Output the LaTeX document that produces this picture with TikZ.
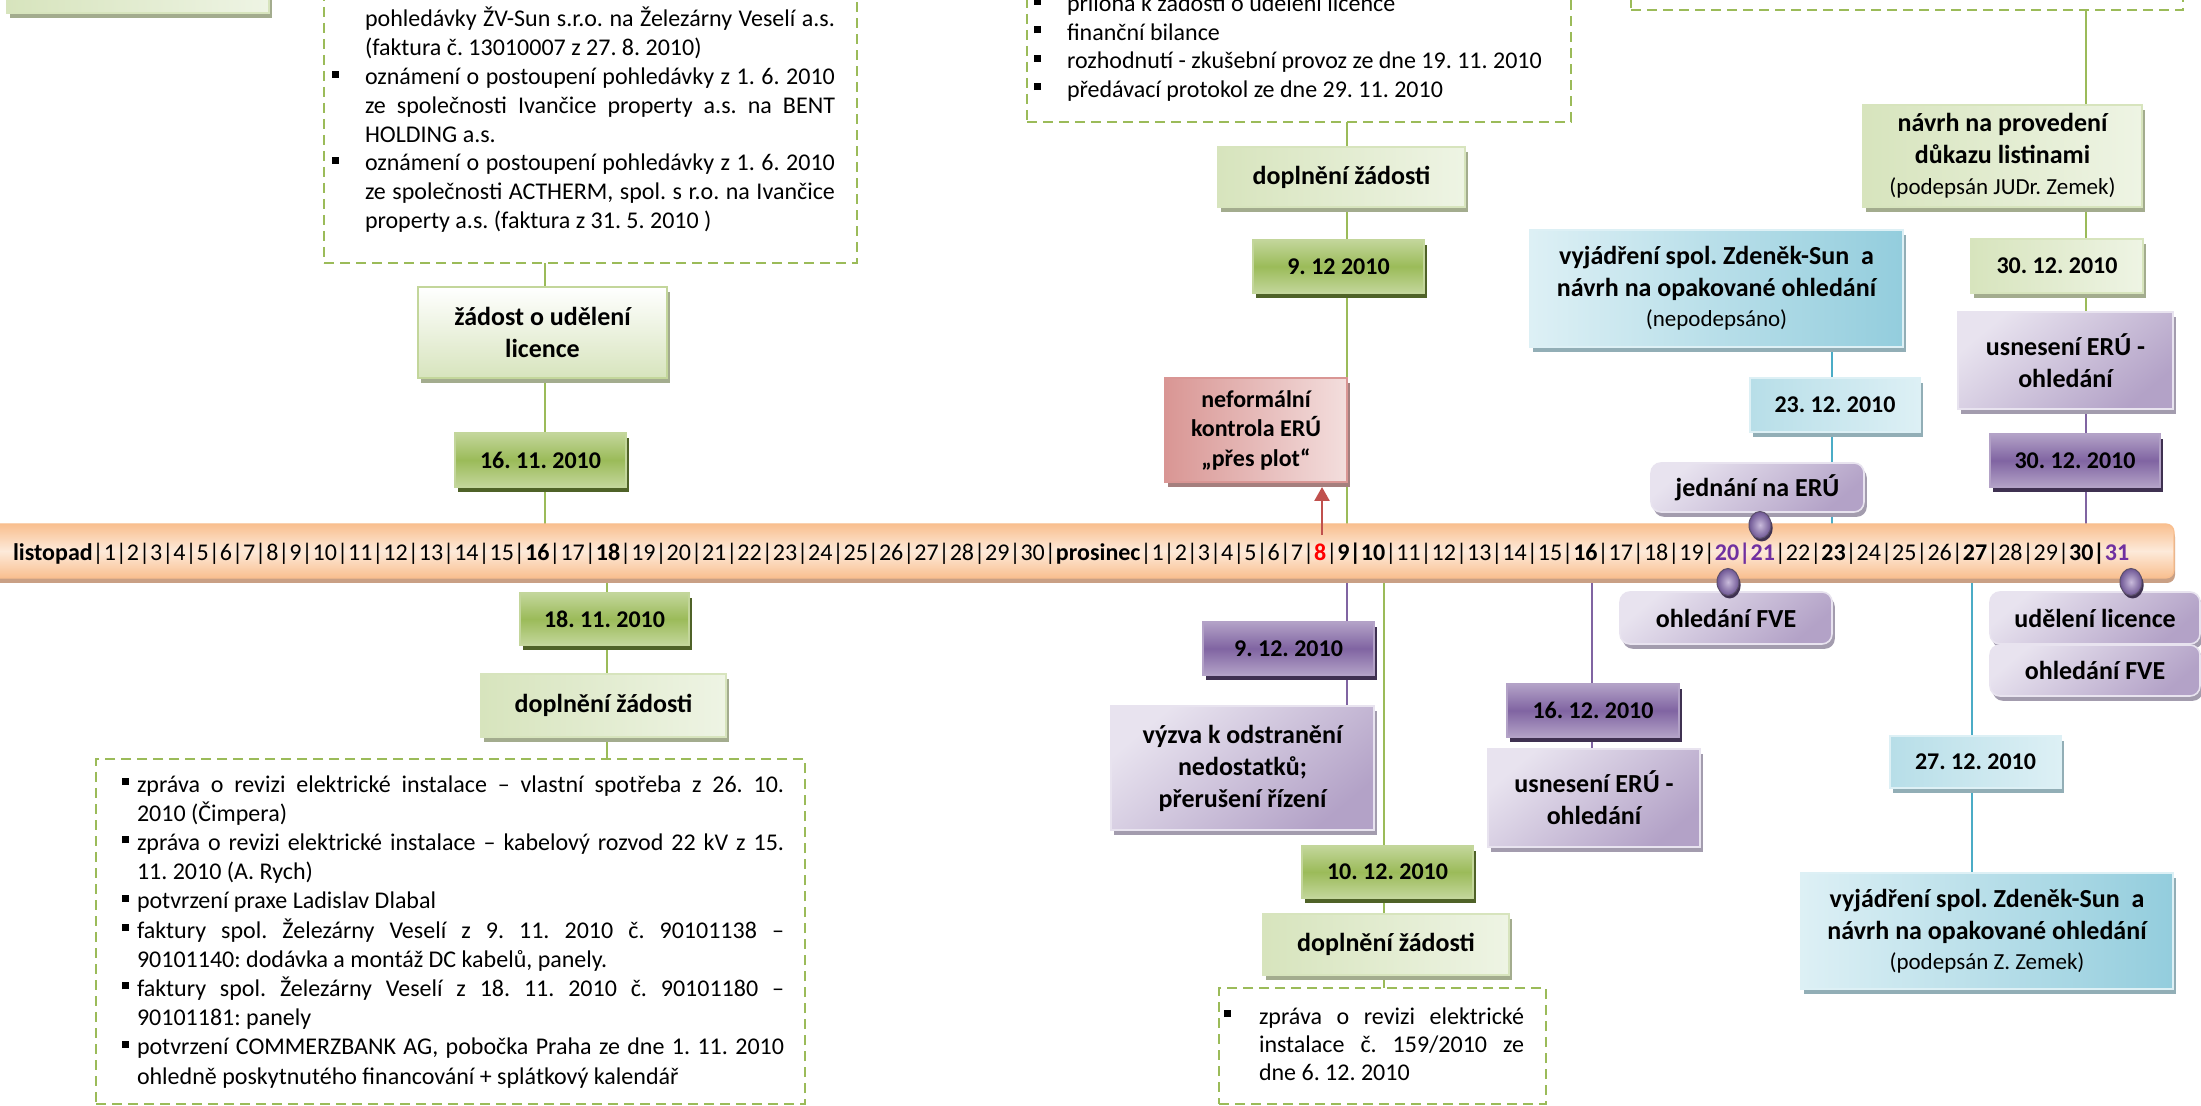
\documentclass[tikz,border=0pt]{standalone}
\usepackage{fontspec}
\setmainfont{Carlito}
\usepackage{graphicx}
\usetikzlibrary{shapes.geometric,shadows,arrows.meta,backgrounds}

\definecolor{Gr}{HTML}{9BBB59}
\definecolor{GrL}{HTML}{C3D69B}
\definecolor{GrLL}{HTML}{D7E4BD}
\definecolor{GrX}{HTML}{EEF4E4}
\definecolor{GrD}{HTML}{4F6228}
\definecolor{GrS}{HTML}{A3AC8E}
\definecolor{Pu}{HTML}{8064A2}
\definecolor{PuL}{HTML}{B3A2C7}
\definecolor{PuX}{HTML}{E8E3EF}
\definecolor{PuD}{HTML}{3F3151}
\definecolor{PuS}{HTML}{A39CAE}
\definecolor{PinIn}{HTML}{C9BBDB}
\definecolor{PinOut}{HTML}{6E5694}
\definecolor{Cy}{HTML}{4BACC6}
\definecolor{CyL}{HTML}{93CDDD}
\definecolor{CyLL}{HTML}{B7DEE8}
\definecolor{CyX}{HTML}{DDF0F5}
\definecolor{CyS}{HTML}{92AEB6}
\definecolor{Rd}{HTML}{C0504D}
\definecolor{RdL}{HTML}{D99694}
\definecolor{RdX}{HTML}{F3DEDD}
\definecolor{RdS}{HTML}{A57F7E}
\definecolor{Or}{HTML}{F9BF8F}
\definecolor{OrX}{HTML}{FDEADA}
\definecolor{OrS}{HTML}{C9A085}
\definecolor{TxP}{HTML}{7030A0}

\newcommand\FontHead{\fontsize{13}{16}\selectfont\bfseries}
\newcommand\FontDate{\fontsize{12}{14}\selectfont\bfseries}
\newcommand\FontRed{\fontsize{12}{14.75}\selectfont\bfseries}
\newcommand\FontPar{\fontsize{11.5}{14}\selectfont\mdseries}
\newcommand\FontBody{\fontsize{12}{14.4}\selectfont\mdseries}
\newcommand\FontTL{\fontsize{12}{14}\selectfont}
\newcommand\jl[1]{\makebox[\linewidth][s]{#1}}
\newcommand\bul[1]{\llap{\rule[3.5pt]{3.5pt}{3.5pt}\hspace*{#1}}}
\newcommand\bx[7]{\node[#1, minimum width={((#5)-(#3))*0.5pt}, minimum height={((#6)-(#4))*0.5pt}] (#2) at ({((#3)+(#5))/2},{((#4)+(#6))/2}) {#7};}

\tikzset{
 every node/.style={inner sep=1pt, outer sep=0pt},
 bxbase/.style={rectangle, align=center, line width=0.8pt, text=black},
 shd/.style={general shadow={fill=#1, shadow xshift=1.4pt, shadow yshift=-2.4pt}},
 gdate/.style={bxbase, font=\FontDate, top color=GrL, bottom color=GrL, middle color=Gr, draw=GrL, shd=GrD},
 glight/.style={bxbase, font=\FontHead, left color=GrLL, right color=GrX, draw=GrLL, shd=GrS},
 gzad/.style={bxbase, font=\FontHead, top color=white, bottom color=GrLL, draw=GrL, shd=GrS},
 pdate/.style={bxbase, font=\FontDate, top color=PuL, bottom color=PuL, middle color=Pu, draw=PuL, shd=PuD},
 plight/.style={bxbase, font=\FontHead, top color=PuX, bottom color=PuL, shading angle=40, draw=PuX, shd=PuS},
 pround/.style={plight, rounded corners=5pt},
 cdate/.style={bxbase, font=\FontDate, left color=CyLL, right color=CyX, draw=CyX, shd=CyS},
 cbig/.style={bxbase, font=\FontHead, left color=CyX, right color=CyL, draw=CyX, shd=CyS},
 rbox/.style={bxbase, font=\FontRed, left color=RdL, right color=RdX, draw=RdL, shd=RdS},
 dbox/.style={rectangle, draw=Gr, line width=1.3pt, dash pattern=on 5pt off 3pt},
 gline/.style={draw=Gr, line width=1pt},
 pline/.style={draw=Pu, line width=1pt},
 cline/.style={draw=Cy, line width=1pt},
 pinball/.style={ellipse, minimum width=11pt, minimum height=13.5pt, inner sep=0pt, shading=radial, inner color=PinIn, outer color=PinOut, draw=PuD!85, line width=0.5pt, general shadow={fill=PuD, shadow xshift=0.8pt, shadow yshift=-1.5pt}},
 tbar/.style={rectangle, rounded corners=4pt, top color=Or, bottom color=Or, middle color=OrX, draw=Or, line width=0.6pt, general shadow={fill=OrS, shadow xshift=0.5pt, shadow yshift=-2.5pt}},
 redarr/.style={draw=Rd, line width=1.2pt, -{Triangle[width=7.5pt,length=7pt]}, shorten >=2.5pt},
 txt/.style={anchor=base west, inner sep=0pt, align=left},
}

\begin{document}
\frenchspacing
\begin{tikzpicture}[x=0.5pt, y=-0.5pt]
\useasboundingbox (0,0) rectangle (2201,1106);
\begin{scope}[on background layer]
\fill[white] (0,0) rectangle (2201,1106);
\end{scope}

% timeline bar
\bx{tbar}{tl}{-20}{524}{2174}{578}{}
\node[anchor=base west, inner sep=0pt] (tltext) at (13,561) {\resizebox{1058pt}{\height}{\FontTL{\bfseries listopad}|1|2|3|4|5|6|7|8|9|10|11|12|13|14|15|{\bfseries 16}|17|{\bfseries 18}|19|20|21|22|23|24|25|26|27|28|29|30|{\bfseries prosinec}|1|2|3|4|5|6|7|{\color{red}\bfseries 8}|{\bfseries 9|10}|11|12|13|14|15|{\bfseries 16}|17|18|19|{\color{TxP}\bfseries 20|21}|22|{\bfseries 23}|24|25|26|{\bfseries 27}|28|29|{\bfseries 30|}{\color{TxP}\bfseries 31}}};

% top-left partial box
\bx{glight}{tlg}{7}{-60}{269}{13}{}

% dashed box A
\bx{dbox}{boxA}{324}{-100}{857}{263}{}
\node[txt] (txtA) at (365,27) {\parbox[t]{235pt}{\FontBody\parskip=0pt
\noindent\jl{pohledávky ŽV-Sun s.r.o. na Železárny Veselí a.s.}\par
\noindent (faktura č. 13010007 z 27. 8. 2010)\par
\noindent\bul{13pt}\jl{oznámení o postoupení pohledávky z 1. 6. 2010}\par
\noindent\jl{ze společnosti Ivančice property a.s. na BENT}\par
\noindent HOLDING a.s.\par
\noindent\bul{13pt}\jl{oznámení o postoupení pohledávky z 1. 6. 2010}\par
\noindent\jl{ze společnosti ACTHERM, spol. s r.o. na Ivančice}\par
\noindent property a.s. (faktura z 31. 5. 2010 )}};

\bx{gzad}{zad}{418}{287}{667}{378}{žádost o udělení\\licence}
\bx{gdate}{d1611}{455}{433}{626}{487}{16. 11. 2010}
\bx{gdate}{d1811}{520}{593}{689}{645}{18. 11. 2010}
\bx{glight}{dopl1}{481}{674}{726}{737}{doplnění žádosti}

% dashed box B
\bx{dbox}{boxB}{96}{759}{805}{1104}{}
\node[txt] (txtB) at (137,792) {\parbox[t]{323.5pt}{\fontsize{12}{14.6}\selectfont\parskip=0pt
\noindent\bul{4pt}\jl{zpráva o revizi elektrické instalace – vlastní spotřeba z 26. 10.}\par
\noindent 2010 (Čimpera)\par
\noindent\bul{4pt}\jl{zpráva o revizi elektrické instalace – kabelový rozvod 22 kV z 15.}\par
\noindent 11. 2010 (A. Rych)\par
\noindent\bul{4pt}potvrzení praxe Ladislav Dlabal\par
\noindent\bul{4pt}\jl{faktury spol. Železárny Veselí z 9. 11. 2010 č. 90101138 –}\par
\noindent 90101140: dodávka a montáž DC kabelů, panely.\par
\noindent\bul{4pt}\jl{faktury spol. Železárny Veselí z 18. 11. 2010 č. 90101180 –}\par
\noindent 90101181: panely\par
\noindent\bul{4pt}\jl{potvrzení COMMERZBANK AG, pobočka Praha ze dne 1. 11. 2010}\par
\noindent ohledně poskytnutého financování + splátkový kalendář}};

% dashed box C
\bx{dbox}{boxC}{1027}{-100}{1571}{122}{}
\node[txt] (txtC) at (1067,12) {\parbox[t]{250pt}{\fontsize{12}{14.2}\selectfont\parskip=0pt
\noindent\bul{13pt}příloha k žádosti o udělení licence\par
\noindent\bul{13pt}finanční bilance\par
\noindent\bul{13pt}rozhodnutí - zkušební provoz ze dne 19. 11. 2010\par
\noindent\bul{13pt}předávací protokol ze dne 29. 11. 2010}};

\bx{glight}{dopl2}{1218}{147}{1465}{207}{doplnění žádosti}
\bx{gdate}{d912g}{1253}{240}{1424}{293}{9. 12 2010}
\bx{rbox}{neform}{1165}{378}{1347}{482}{neformální\\kontrola ERÚ\\„přes plot“}

\bx{pdate}{d912p}{1203}{622}{1374}{675}{9. 12. 2010}
\bx{plight}{vyzva}{1111}{706}{1374}{830}{výzva k odstranění\\nedostatků;\\přerušení řízení}
\bx{gdate}{d1012}{1302}{846}{1473}{898}{10. 12. 2010}
\bx{glight}{dopl3}{1263}{914}{1509}{975}{doplnění žádosti}

% dashed box D
\bx{dbox}{boxD}{1219}{988}{1546}{1104}{}
\node[txt] (txtD) at (1259,1024) {\parbox[t]{132.5pt}{\fontsize{12}{14}\selectfont\parskip=0pt
\noindent\bul{14pt}\jl{zpráva o revizi elektrické}\par
\noindent\jl{instalace č. 159/2010 ze}\par
\noindent dne 6. 12. 2010}};

\bx{pdate}{d1612}{1507}{684}{1679}{737}{16. 12. 2010}
\bx{plight}{usn1}{1488}{749}{1700}{847}{usnesení ERÚ -\\ohledání}
\bx{pround}{ohl1}{1620}{592}{1832}{644}{ohledání FVE}
\bx{pround}{jedn}{1651}{463}{1864}{512}{jednání na ERÚ}
\bx{cdate}{d2312}{1750}{378}{1920}{432}{23. 12. 2010}
\bx{cbig}{vyj1}{1530}{230}{1903}{347}{vyjádření spol. Zdeněk-Sun~ a\\návrh na opakované ohledání\\[-1pt]{\FontPar (nepodepsáno)}}

% dashed box E
\bx{dbox}{boxE}{1631}{-100}{2183}{10}{}
\bx{glight}{navrh}{1863}{105}{2142}{207}{návrh na provedení\\důkazu listinami\\[-0.5pt]{\FontPar (podepsán JUDr. Zemek)}}
\bx{glight}{d3012g}{1971}{239}{2143}{293}{\FontDate 30. 12. 2010}
\bx{plight}{usn2}{1958}{312}{2173}{409}{usnesení ERÚ -\\ohledání}
\bx{pdate}{d3012p}{1990}{434}{2160}{487}{30. 12. 2010}
\bx{pround}{udel}{1990}{592}{2200}{644}{udělení licence}
\bx{pround}{ohl2}{1990}{645}{2200}{696}{ohledání FVE}
\bx{cdate}{d2712}{1890}{736}{2061}{788}{27. 12. 2010}
\bx{cbig}{vyj2}{1801}{873}{2173}{989}{vyjádření spol. Zdeněk-Sun~ a\\návrh na opakované ohledání\\[-1pt]{\FontPar (podepsán Z. Zemek)}}

% x positions of the vertical connectors
\coordinate (xa) at (545,0);
\coordinate (xb) at (607,0);
\coordinate (xc) at (1347,0);
\coordinate (xd) at (1384,0);
\coordinate (xe) at (1592,0);
\coordinate (xf) at (1832,0);
\coordinate (xg) at (1972,0);
\coordinate (xh) at (2086,0);

\begin{scope}[on background layer]
\draw[gline] (boxA.south -| xa) -- (zad.north -| xa);
\draw[gline] (zad.south -| xa) -- (d1611.north -| xa);
\draw[gline] (d1611.south -| xa) -- (tl.north -| xa);
\draw[gline] (tl.south -| xb) -- (d1811.north -| xb);
\draw[gline] (d1811.south -| xb) -- (dopl1.north -| xb);
\draw[gline] (dopl1.south -| xb) -- (boxB.north -| xb);
\draw[gline] (boxC.south -| xc) -- (dopl2.north -| xc);
\draw[gline] (dopl2.south -| xc) -- (d912g.north -| xc);
\draw[gline] (d912g.south -| xc) -- (tl.north -| xc);
\draw[pline] (tl.south -| xc) -- (d912p.north -| xc);
\draw[pline] (d912p.south -| xc) -- (vyzva.north -| xc);
\draw[gline] (tl.south -| xd) -- (d1012.north -| xd);
\draw[gline] (d1012.south -| xd) -- (dopl3.north -| xd);
\draw[gline] (dopl3.south -| xd) -- (boxD.north -| xd);
\draw[pline] (tl.south -| xe) -- (d1612.north -| xe);
\draw[pline] (d1612.south -| xe) -- (usn1.north -| xe);
\draw[cline] (vyj1.south -| xf) -- (d2312.north -| xf);
\draw[cline] (d2312.south -| xf) -- (tl.north -| xf);
\draw[cline] (tl.south -| xg) -- (d2712.north -| xg);
\draw[cline] (d2712.south -| xg) -- (vyj2.north -| xg);
\draw[gline] (boxE.south -| xh) -- (navrh.north -| xh);
\draw[gline] (navrh.south -| xh) -- (d3012g.north -| xh);
\draw[gline] (d3012g.south -| xh) -- (usn2.north -| xh);
\draw[pline] (usn2.south -| xh) -- (d3012p.north -| xh);
\draw[pline] (d3012p.south -| xh) -- (tl.north -| xh);
\end{scope}

% red arrow from day 8
\coordinate (r8) at (1322,535);
\draw[redarr] (r8) -- (neform.south -| r8);

% pins
\node[pinball] (pin1) at (1760,525) {};
\node[pinball] (pin2) at (1728,582) {};
\node[pinball] (pin3) at (2131,582) {};
\end{tikzpicture}
\end{document}
